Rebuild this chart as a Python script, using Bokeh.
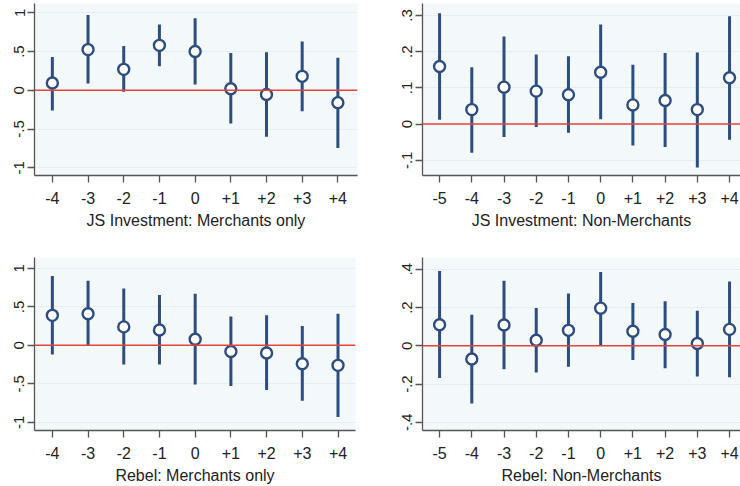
from bokeh.plotting import figure
from bokeh.layouts import column, row
from bokeh.models import FixedTicker, Range1d, ColumnDataSource, Span
from bokeh.embed import file_html
from bokeh.resources import INLINE

# Event-time leads/lags
periods_m = [-4, -3, -2, -1, 0, 1, 2, 3, 4]
periods_n = [-5, -4, -3, -2, -1, 0, 1, 2, 3, 4]
period_labels = {-5: "-5", -4: "-4", -3: "-3", -2: "-2", -1: "-1", 0: "0",
                 1: "+1", 2: "+2", 3: "+3", 4: "+4"}

# JS Investment: Merchants only
js_m_est = [0.094, 0.525, 0.27, 0.58, 0.50, 0.02, -0.055, 0.18, -0.16]
js_m_lo = [-0.26, 0.086, -0.02, 0.31, 0.073, -0.43, -0.60, -0.27, -0.745]
js_m_hi = [0.43, 0.97, 0.57, 0.85, 0.93, 0.48, 0.49, 0.63, 0.42]

# JS Investment: Non-Merchants
js_n_est = [0.159, 0.040, 0.102, 0.091, 0.081, 0.143, 0.053, 0.065, 0.040, 0.128]
js_n_lo = [0.012, -0.079, -0.036, -0.008, -0.024, 0.013, -0.059, -0.063, -0.120, -0.043]
js_n_hi = [0.306, 0.157, 0.242, 0.192, 0.187, 0.275, 0.164, 0.196, 0.198, 0.298]

# Rebel: Merchants only
rb_m_est = [0.39, 0.41, 0.24, 0.20, 0.08, -0.08, -0.10, -0.24, -0.26]
rb_m_lo = [-0.12, 0.0, -0.25, -0.25, -0.51, -0.53, -0.58, -0.72, -0.93]
rb_m_hi = [0.90, 0.84, 0.74, 0.655, 0.67, 0.375, 0.39, 0.25, 0.41]

# Rebel: Non-Merchants
rb_n_est = [0.110, -0.069, 0.109, 0.029, 0.081, 0.197, 0.076, 0.059, 0.012, 0.086]
rb_n_lo = [-0.169, -0.302, -0.122, -0.140, -0.109, 0.003, -0.074, -0.117, -0.160, -0.164]
rb_n_hi = [0.391, 0.162, 0.340, 0.198, 0.274, 0.386, 0.224, 0.233, 0.184, 0.336]

NAVY = "#2C4D7E"
RED = "#E5443A"
PLOT_BG = "#F3F8FB"
FONT = "Liberation Sans"


def panel(xs, est, lo, hi, title, xr, yr, yticks, ylabels, borders):
    left, right, top, bottom = borders
    p = figure(width=370, height=243, output_backend="svg", toolbar_location=None,
               x_range=Range1d(*xr), y_range=Range1d(*yr),
               min_border_left=left, min_border_right=right,
               min_border_top=top, min_border_bottom=bottom)
    p.background_fill_color = PLOT_BG
    p.border_fill_color = "white"
    p.outline_line_color = None

    src = ColumnDataSource(dict(x=xs, est=est, lo=lo, hi=hi))
    p.add_layout(Span(location=0, dimension="width", line_color=RED, line_width=1.5))
    p.segment(x0="x", y0="lo", x1="x", y1="hi", source=src,
              line_color=NAVY, line_width=3)
    p.scatter(x="x", y="est", source=src, marker="circle", size=11,
              fill_color="white", line_color=NAVY, line_width=2.4)

    p.xgrid.grid_line_color = None
    p.ygrid.grid_line_color = "#E6EEF3"
    p.ygrid.ticker = FixedTicker(ticks=yticks)

    xa = p.xaxis[0]
    xa.ticker = FixedTicker(ticks=xs)
    xa.major_label_overrides = {k: period_labels[k] for k in xs}
    xa.axis_label = title
    ya = p.yaxis[0]
    ya.ticker = FixedTicker(ticks=yticks)
    ya.major_label_overrides = dict(zip(yticks, ylabels))
    ya.major_label_orientation = "vertical"

    for ax in (xa, ya):
        ax.axis_line_color = "#555555"
        ax.axis_line_width = 1.3
        ax.major_tick_line_color = "#555555"
        ax.major_tick_line_width = 1.3
        ax.major_tick_in = 0
        ax.major_tick_out = 7
        ax.minor_tick_line_color = None
        ax.major_label_text_font = FONT
        ax.major_label_text_color = "#222222"
        ax.axis_label_text_font = FONT
        ax.axis_label_text_font_style = "normal"
        ax.axis_label_text_color = "#222222"
        ax.axis_label_text_font_size = "16px"
    xa.major_label_text_font_size = "16px"
    xa.major_label_standoff = 9
    xa.axis_label_standoff = 5
    ya.major_label_text_font_size = "15px"
    ya.major_label_standoff = 3
    return p


p1 = panel(periods_m, js_m_est, js_m_lo, js_m_hi, "JS Investment: Merchants only",
           (-4.5, 4.55), (-1.10, 1.12), [-1, -0.5, 0, 0.5, 1],
           ["-1", "-.5", "0", ".5", "1"], (34, 13, 3, 68))
p2 = panel(periods_n, js_n_est, js_n_lo, js_n_hi, "JS Investment: Non-Merchants",
           (-5.53, 4.34), (-0.142, 0.333), [-0.1, 0, 0.1, 0.2, 0.3],
           ["-.1", "0", ".1", ".2", ".3"], (52, 0, 3, 67))
p3 = panel(periods_m, rb_m_est, rb_m_lo, rb_m_hi, "Rebel: Merchants only",
           (-4.5, 4.49), (-1.107, 1.142), [-1, -0.5, 0, 0.5, 1],
           ["-1", "-.5", "0", ".5", "1"], (34, 15, 14, 55))
p4 = panel(periods_n, rb_n_est, rb_n_lo, rb_n_hi, "Rebel: Non-Merchants",
           (-5.53, 4.34), (-0.443, 0.462), [-0.4, -0.2, 0, 0.2, 0.4],
           ["-.4", "-.2", "0", ".2", ".4"], (52, 0, 13, 55))

layout = column(row(p1, p2), row(p3, p4))
open("out.html", "w").write(file_html(layout, INLINE))
